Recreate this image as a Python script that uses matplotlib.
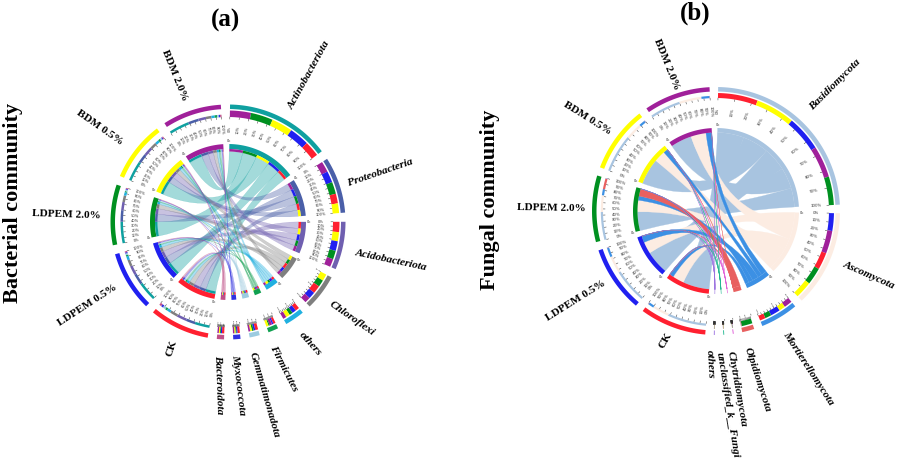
import numpy as np
import matplotlib
matplotlib.use("Agg")
import matplotlib.pyplot as plt
from matplotlib.patches import Polygon, PathPatch
from matplotlib.path import Path

plt.rcParams['font.family'] = ['Liberation Serif', 'DejaVu Serif']

samples = ["CK", "LDPEM 0.5%", "LDPEM 2.0%", "BDM 0.5%", "BDM 2.0%"]
sample_colors = ["#FF2030", "#2020F0", "#009020", "#FFFF00", "#A0209A"]

phyla_a = ["Actinobacteriota", "Proteobacteria", "Acidobacteriota", "Chloroflexi", "others",
           "Firmicutes", "Gemmatimonadota", "Myxococcota", "Bacteroidota"]
phyla_a_colors = ["#0FA0A0", "#4A5FA8", "#6F5FB0", "#7F7F7F", "#20B0E0",
                  "#10A050", "#9CCBE0", "#3030E0", "#C05088"]
# percent of each sample: CK, LDPEM 0.5, LDPEM 2.0, BDM 0.5, BDM 2.0
actino = [27, 35, 39, 37, 37]
proteo = [17, 20, 21, 17, 19]
acido = [18, 17, 15, 16, 14]
chloro = [14, 12, 12, 12, 10]
others_a = [7, 7, 6, 7, 6]
firmi = [4, 2.5, 2, 4, 4.5]
gemma = [5, 3, 3, 3, 3]
myxo = [4, 2, 1.5, 2, 2.5]
bacte = [4, 2, 1.5, 2, 2.5]
values_a = [actino, proteo, acido, chloro, others_a, firmi, gemma, myxo, bacte]
# clockwise order of the samples inside each phylum sector
order_a = [[4, 2, 3, 1, 0], [4, 1, 2, 0, 3], [0, 3, 1, 2, 4], [3, 2, 0, 1, 4], [0, 1, 2, 3, 4],
           [0, 1, 4, 2, 3], [0, 1, 2, 3, 4], [0, 1, 2, 3, 4], [0, 1, 2, 3, 4]]

phyla_b = ["Basidiomycota", "Ascomycota", "Mortierellomycota", "Olpidiomycota", "Chytridiomycota",
           "unclassified_k__Fungi", "others"]
phyla_b_colors = ["#A8C4E0", "#FCECE2", "#3C90E4", "#E86060", "#E060D8", "#20B890", "#9A70E0"]
basidio = [63, 56, 45, 62, 50]
asco = [27, 28, 27, 27, 36]
mortie = [9, 15, 10, 10, 13]
olpid = [0.4, 0.3, 17, 0.3, 0.3]
chytr = [0.3, 0.3, 0.4, 0.2, 0.2]
uncl = [0.3, 0.2, 0.3, 0.3, 0.2]
others_b = [0.2, 0.3, 0.3, 0.3, 0.2]
values_b = [basidio, asco, mortie, olpid, chytr, uncl, others_b]
order_b = [[0, 3, 1, 4, 2], [1, 4, 0, 2, 3], [4, 3, 1, 2, 0], [2, 0, 1, 3, 4],
           [0, 1, 2, 3, 4], [0, 1, 2, 3, 4], [0, 1, 2, 3, 4]]

tick_percent = list(range(0, 101, 10))

labels_a = {"Actinobacteriota": (309, 75, 61), "Proteobacteria": (380, 173, 19), "Acidobacteriota": (391, 260, -12),
            "Chloroflexi": (352, 319, -35), "others": (310, 344, -48), "Firmicutes": (284, 368, -63),
            "Gemmatimonadota": (264, 395, -74), "Myxococcota": (238, 385, -83), "Bacteroidota": (219, 385, -88)}
sample_labels_a = {"CK": (172, 348, 72), "LDPEM 0.5%": (87, 305, 33), "LDPEM 2.0%": (66, 215, -2),
                   "BDM 0.5%": (100, 128, -35), "BDM 2.0%": (175, 75, -68)}
labels_b = {"Basidiomycota": (835, 85, 45), "Ascomycota": (869, 275, -24), "Mortierellomycota": (808, 368, -57),
            "Olpidiomycota": (757, 380, -72), "Chytridiomycota": (737, 389, -80),
            "unclassified_k__Fungi": (727, 405, -81), "others": (710, 364, -87)}
sample_labels_b = {"CK": (666, 340, 60), "LDPEM 0.5%": (576, 301, 32), "LDPEM 2.0%": (551, 208, -1),
                   "BDM 0.5%": (587, 118, -32), "BDM 2.0%": (667, 64, -68)}

fig = plt.figure(figsize=(8.99, 4.63), dpi=100)
ax = fig.add_axes([0, 0, 1, 1])
ax.set_xlim(0, 899)
ax.set_ylim(463, 0)
ax.axis('off')


def chord_diagram(cx, cy, phyla, pcolors, vals, order, R, gap, alpha, strip):
    vals = np.array(vals, dtype=float)
    total = vals.sum() * 2
    nsec = len(phyla) + len(samples)
    scale = (360 - gap * nsec) / total

    def xy(r, t):
        t = np.radians(t)
        return np.column_stack([cx + r * np.sin(t), cy - r * np.cos(t)])

    def band(r0, r1, t0, t1, color, z=3):
        n = max(3, int(abs(t1 - t0) / 1.5) + 2)
        ts = np.linspace(t0, t1, n)
        ax.add_patch(Polygon(np.vstack([xy(r1, ts), xy(r0, ts[::-1])]), closed=True, fc=color, ec='none', zorder=z))

    def ticks(t0, width, rt, rl, fs):
        small = width < 20
        lw = 0.9 if width < 2 else 0.35
        for p in tick_percent:
            t = t0 + width * p / 100
            seg = xy(np.array([rt, rt - 2]), np.array([t, t]))
            ax.plot(seg[:, 0], seg[:, 1], color='#333333', lw=lw, zorder=3)
            if small and p % 50:
                continue
            if width < 2 and p:
                continue
            r = rt - 4 if small else rl
            size = 1.5 if small else fs
            pos = xy(r, t)[0]
            rot = 90 - t if t % 360 <= 180 else 270 - t
            ax.text(pos[0], pos[1], f"{p}%", fontsize=size, color='#333333', rotation=rot,
                    rotation_mode='anchor', ha='center', va='center', family='DejaVu Sans', zorder=3)

    r_out0, r_out1 = R['out']
    r_bar0 = R['bar0']
    r_ring0, r_ring1 = R['ring']
    r_ch = r_ring0 - strip

    # sector layout
    t = 1.0
    pos_p = {}
    for i, name in enumerate(phyla):
        w = vals[i].sum() * scale
        band(r_out0, r_out1, t, t + w, pcolors[i])
        band(r_ring0, r_ring1, t, t + w, pcolors[i])
        ticks(t, w, r_bar0, R['lab'], R['fs'])
        if w >= 8:
            z = xy(r_ring1 + 3, t)[0]
            ax.text(z[0], z[1], "0k", fontsize=2.5, color='#333333', ha='center', va='center', family='DejaVu Sans')
        tt = t
        for s in order[i]:
            sw = vals[i][s] * scale
            band(r_bar0, r_bar0 + R['pbar'], tt, tt + sw, sample_colors[s])
            if strip:
                band(r_ch, r_ring0, tt, tt + sw, sample_colors[s])
            pos_p[(i, s)] = (tt, tt + sw)
            tt += sw
        t += w + gap
    pos_s = {}
    for s, name in enumerate(samples):
        w = vals[:, s].sum() * scale
        band(r_out0, r_out1, t, t + w, sample_colors[s])
        band(r_ring0, r_ring1, t, t + w, sample_colors[s])
        ticks(t, w, r_bar0, R['lab'], R['fs'])
        z = xy(r_ring1 + 3, t)[0]
        ax.text(z[0], z[1], "0k", fontsize=2.5, color='#333333', ha='center', va='center', family='DejaVu Sans')
        tt = t
        for i in range(len(phyla)):
            sw = vals[i][s] * scale
            band(r_bar0, r_bar0 + R['sbar'], tt, tt + sw, pcolors[i])
            if strip:
                band(r_ch, r_ring0, tt, tt + sw, pcolors[i])
            pos_s[(i, s)] = (tt, tt + sw)
            tt += sw
        t += w + gap

    # chords
    zz = 1.0
    for i in range(len(phyla)):
        for s in order[i]:
            a0, a1 = pos_p[(i, s)]
            b0, b1 = pos_s[(i, s)]
            a = np.linspace(a0, a1, max(3, int((a1 - a0) / 1.5) + 2))
            b = np.linspace(b0, b1, max(3, int((b1 - b0) / 1.5) + 2))
            pa, pb = xy(r_ch, a), xy(r_ch, b)
            verts, codes = [], []
            verts.extend(pa); codes.extend([Path.MOVETO] + [Path.LINETO] * (len(pa) - 1))
            verts.extend([[cx, cy], pb[0]]); codes.extend([Path.CURVE3, Path.CURVE3])
            verts.extend(pb[1:]); codes.extend([Path.LINETO] * (len(pb) - 1))
            verts.extend([[cx, cy], pa[0]]); codes.extend([Path.CURVE3, Path.CURVE3])
            ax.add_patch(PathPatch(Path(verts, codes), fc=pcolors[i], ec=pcolors[i], alpha=alpha, lw=0.2, zorder=zz))
            zz += 0.01


chord_diagram(228, 222, phyla_a, phyla_a_colors, values_a, order_a,
              dict(out=(113, 117.5), bar0=105, ring=(73, 78), lab=93, fs=2.6, pbar=6.5, sbar=2.5),
              4.5, 0.38, 2.5)
chord_diagram(716, 211, phyla_b, phyla_b_colors, values_b, order_b,
              dict(out=(119.5, 124), bar0=113, ring=(78.5, 83), lab=100, fs=2.8, pbar=5, sbar=2.2),
              4.0, 1.0, 0)


def put_labels(d, style):
    for name, (x, y, rot) in d.items():
        ax.text(x, y, name, fontsize=8.1, fontweight='bold', fontstyle=style, rotation=rot,
                rotation_mode='anchor', ha='center', va='center', color='black', zorder=6)


put_labels(labels_a, 'italic')
put_labels(sample_labels_a, 'normal')
put_labels(labels_b, 'italic')
put_labels(sample_labels_b, 'normal')

ax.text(225, 20, "(a)", fontsize=18, fontweight='bold', ha='center', va='center')
ax.text(695, 13, "(b)", fontsize=18, fontweight='bold', ha='center', va='center')
ax.text(13, 203, "Bacterial community", fontsize=16, fontweight='bold', rotation=90, ha='center', va='center')
ax.text(490, 200, "Fungal community", fontsize=16, fontweight='bold', rotation=90, ha='center', va='center')

fig.savefig("out.png", dpi=100)
